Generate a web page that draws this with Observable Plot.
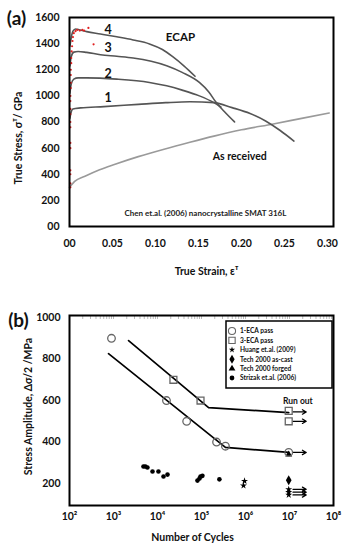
<!DOCTYPE html>
<html><head><meta charset="utf-8">
<script src="https://cdn.jsdelivr.net/npm/d3@7"></script>
<script src="https://cdn.jsdelivr.net/npm/@observablehq/plot@0.6"></script>
<style>
body{margin:0;background:#fff;}
#c{width:346px;}
#c svg{display:block;}
</style></head><body><div id="c"></div>
<script>
// ---------- Panel (a) data ----------
const strainTicks = [0, 0.05, 0.10, 0.15, 0.20, 0.25, 0.30];
const stressTicks = [0, 200, 400, 600, 800, 1000, 1200, 1400, 1600];
const ecap4 = [[0.0005,1380],[0.002,1445],[0.004,1495],[0.007,1512],[0.012,1505],[0.02,1492],[0.036,1474],[0.055,1452],[0.074,1428],[0.093,1398],[0.108,1355],[0.12,1300],[0.133,1230],[0.146,1150]];
const ecap3 = [[0.0005,1230],[0.002,1300],[0.005,1335],[0.01,1340],[0.02,1333],[0.036,1315],[0.055,1303],[0.074,1290],[0.095,1265],[0.113,1231],[0.131,1180],[0.151,1103],[0.162,1030],[0.17,955],[0.18,880],[0.192,800]];
const ecap2 = [[0.0005,1020],[0.002,1090],[0.005,1128],[0.01,1138],[0.02,1138],[0.055,1128],[0.093,1103],[0.113,1077],[0.131,1044],[0.151,1000],[0.168,948],[0.176,915]];
const ecap1 = [[0.0005,830],[0.0015,865],[0.004,900],[0.013,908],[0.04,918],[0.08,935],[0.112,948],[0.14,955],[0.168,948],[0.189,910],[0.21,865],[0.228,808],[0.245,735],[0.261,654]];
const asReceived = [[0,300],[0.001,308],[0.006,345],[0.018,385],[0.035,435],[0.053,477],[0.08,535],[0.11,592],[0.14,645],[0.168,692],[0.2,740],[0.237,785],[0.27,828],[0.302,869]];
const redPoints = [[0.001,300],[0.001,330],[0.001,400],[0.001,430],[0.001,600],[0.001,640],[0.001,760],[0.001,800],[0.001,860],[0.001,900],[0.001,960],[0.001,1000],[0.0015,1060],[0.0015,1100],[0.0015,1160],[0.0015,1200],[0.002,1250],[0.002,1290],[0.0025,1340],[0.003,1380],[0.0035,1420],[0.004,1450],[0.005,1480],[0.007,1495],[0.009,1505],[0.012,1500],[0.015,1505],[0.017,1500],[0.022,1520],[0.028,1395]];

// ---------- Panel (b) data ----------
const cycleTicks = [1e2, 1e3, 1e4, 1e5, 1e6, 1e7, 1e8];
const ampTicks = [200, 400, 600, 800, 1000];
const eca1Cycles = [900, 16000, 46000, 220000, 350000, 9.6e6];
const eca1Stress = [900, 600, 500, 400, 380, 350];
const eca3Cycles = [23000, 95000, 9.6e6, 9.6e6];
const eca3Stress = [700, 600, 550, 500];
const strizakCycles = [4800, 5300, 5900, 7700, 10500, 13700, 16900, 81000, 90000, 95000, 105000, 255000];
const strizakStress = [282, 282, 277, 258, 258, 234, 243, 214, 224, 234, 237, 220];
const huangCycles = [900000, 950000, 9.6e6, 9.6e6, 9.6e6];
const huangStress = [190, 212, 172, 158, 145];
const techCastCycles = [9.6e6];
const techCastStress = [216];
const techForgedCycles = [9.6e6];
const techForgedStress = [340];
const fit1 = [[770,826],[350000,374],[9.6e6,350]];
const fit3 = [[2200,889],[145000,566],[9.6e6,542]];
const runoutStress = [545, 500, 350, 172, 158, 145];
const runoutFrom = 1.2e7, runoutTo = 2.4e7;

const FONT = "Lato, 'Open Sans', 'DejaVu Sans', sans-serif";
const toRows = (pts, name) => pts.map(([x, y]) => ({x, y, name}));

// ---------- Panel (a) ----------
const curveRows = [
  ...toRows(ecap4, "4"), ...toRows(ecap3, "3"), ...toRows(ecap2, "2"), ...toRows(ecap1, "1")
];
const labelsA = [
  {t: "4", x: 0.045, y: 1508}, {t: "3", x: 0.045, y: 1370},
  {t: "2", x: 0.045, y: 1171}, {t: "1", x: 0.045, y: 980}
];

const plotA = Plot.plot({
  width: 346, height: 290,
  marginLeft: 69, marginRight: 13, marginTop: 17, marginBottom: 64,
  style: {fontFamily: FONT, fontWeight: "bold", fontSize: "10.5px", color: "#111", background: "white", overflow: "visible"},
  x: {domain: [0, 0.307]},
  y: {domain: [0, 1600]},
  marks: [
    Plot.axisY({ticks: stressTicks, tickSize: 0, tickPadding: 10, label: null, tickFormat: d => d === 0 ? "00" : String(d)}),
    Plot.axisX({ticks: strainTicks, tickSize: 0, tickPadding: 13, label: null, tickFormat: d => d === 0 ? "00" : d.toFixed(2)}),
    Plot.line(toRows(asReceived, "as"), {x: "x", y: "y", stroke: "#9a9a9a", strokeWidth: 1.6, curve: "monotone-x"}),
    Plot.line(curveRows, {x: "x", y: "y", z: "name", stroke: "#555", strokeWidth: 1.6, curve: "monotone-x"}),
    Plot.dot(redPoints, {x: d => d[0], y: d => d[1], r: 1.1, fill: "#e02020", stroke: null}),
    Plot.text(labelsA, {x: "x", y: "y", text: "t", fontSize: 12.5, fontWeight: "bold", fill: "#111"}),
    Plot.text(["ECAP"], {x: 0.129, y: 1447, fontSize: 11.5, fontWeight: "bold", fill: "#111"}),
    Plot.text(["As received"], {x: 0.198, y: 536, fontSize: 10.5, fontWeight: "bold", fill: "#111"}),
    Plot.text(["Chen et.al. (2006) nanocrystalline SMAT 316L"], {x: 0.158, y: 100, fontSize: 8, fontWeight: "bold", fill: "#222"}),
    Plot.frame({stroke: "#000", strokeWidth: 2}),
    Plot.text(["(a)"], {frameAnchor: "top-left", dx: -53, dy: 1, fontSize: 19, fontWeight: "bold", textAnchor: "middle", lineAnchor: "middle", fill: "#111"}),
    Plot.text(["True Stress, σᵀ/ GPa"], {frameAnchor: "left", dx: -51, dy: 16, rotate: -90, fontSize: 10.5, fontWeight: "bold", textAnchor: "middle", lineAnchor: "middle", fill: "#111"}),
    Plot.text(["True Strain, εᵀ"], {frameAnchor: "bottom", dx: 5, dy: 45, fontSize: 10.5, fontWeight: "bold", textAnchor: "middle", lineAnchor: "middle", fill: "#111"})
  ]
});

// ---------- Panel (b) ----------
const sup = {2: "²", 3: "³", 4: "⁴", 5: "⁵", 6: "⁶", 7: "⁷", 8: "⁸"};
const zip = (xs, ys) => xs.map((x, i) => ({x, y: ys[i]}));
const fitRows = [...toRows(fit1, "1"), ...toRows(fit3, "3")];
const arrows = runoutStress.map(y => ({y, x1: runoutFrom, x2: runoutTo}));

const plotB = Plot.plot({
  width: 346, height: 260,
  marginLeft: 69, marginRight: 13, marginTop: 25, marginBottom: 45,
  style: {fontFamily: FONT, fontWeight: "bold", fontSize: "10.5px", color: "#111", background: "white", overflow: "visible"},
  x: {type: "log", domain: [1e2, 1e8]},
  y: {domain: [94, 1010]},
  marks: [
    Plot.axisY({ticks: ampTicks, tickSize: 0, tickPadding: 9, label: null, tickFormat: d => String(d)}),
    Plot.axisX({ticks: cycleTicks, tickSize: 0, tickPadding: 7, label: null, tickFormat: d => "10" + sup[Math.round(Math.log10(d))]}),
    Plot.axisX({anchor: "top", ticks: 60, tickSize: -3, stroke: "#bbb", tickFormat: () => "", label: null}),
    Plot.line(fitRows, {x: "x", y: "y", z: "name", stroke: "#000", strokeWidth: 1.7}),
    Plot.arrow(arrows, {x1: "x1", x2: "x2", y1: "y", y2: "y", stroke: "#000", strokeWidth: 1.2, headLength: 6, headAngle: 60}),
    Plot.dot(zip(strizakCycles, strizakStress), {x: "x", y: "y", r: 2.3, fill: "#000", symbol: "circle"}),
    Plot.dot(zip(huangCycles, huangStress), {x: "x", y: "y", r: 2.2, fill: "#000", symbol: "star"}),
    Plot.dot(zip(techCastCycles, techCastStress), {x: "x", y: "y", r: 3, fill: "#000", symbol: "diamond"}),
    Plot.dot(zip(techForgedCycles, techForgedStress), {x: "x", y: "y", r: 2.6, fill: "#000", symbol: "triangle"}),
    Plot.dot(zip(eca1Cycles, eca1Stress), {x: "x", y: "y", r: 3.8, fill: "none", stroke: "#666", strokeWidth: 1.3, symbol: "circle"}),
    Plot.dot(zip(eca3Cycles, eca3Stress), {x: "x", y: "y", r: 3.9, fill: "none", stroke: "#666", strokeWidth: 1.3, symbol: "square"}),
    Plot.text(["Run out"], {x: 1.55e7, y: 598, fontSize: 8.5, fontWeight: "bold", fill: "#111"}),
    Plot.frame({stroke: "#000", strokeWidth: 2}),
    Plot.text(["(b)"], {frameAnchor: "top-left", dx: -51, dy: 5, fontSize: 19, fontWeight: "bold", textAnchor: "middle", lineAnchor: "middle", fill: "#111"}),
    Plot.text(["Stress Amplitude, Δσ/2 /MPa"], {frameAnchor: "left", dx: -41, dy: -4, rotate: -90, fontSize: 10.5, fontWeight: "bold", textAnchor: "middle", lineAnchor: "middle", fill: "#111"}),
    Plot.text(["Number of Cycles"], {frameAnchor: "bottom", dx: -9, dy: 32, fontSize: 10.5, fontWeight: "bold", textAnchor: "middle", lineAnchor: "middle", fill: "#111"})
  ]
});

// Legend for panel (b)
const legendItems = [
  {label: "1-ECA pass", sym: d3.symbolCircle, fill: "none", stroke: "#666", size: 40},
  {label: "3-ECA pass", sym: d3.symbolSquare, fill: "none", stroke: "#666", size: 40},
  {label: "Huang et.al. (2009)", sym: d3.symbolStar, fill: "#000", stroke: "none", size: 12},
  {label: "Tech 2000 as-cast", sym: d3.symbolDiamond, fill: "#000", stroke: "none", size: 24},
  {label: "Tech 2000 forged", sym: d3.symbolTriangle, fill: "#000", stroke: "none", size: 20},
  {label: "Strizak et.al. (2006)", sym: d3.symbolCircle, fill: "#000", stroke: "none", size: 18}
];
const svgB = d3.select(plotB);
const lg = svgB.append("g").attr("font-family", FONT).attr("font-weight", "bold").attr("font-size", "6.6px").attr("text-anchor", "start");
lg.append("rect").attr("x", 226).attr("y", 31).attr("width", 106).attr("height", 67)
  .attr("fill", "white").attr("stroke", "#000").attr("stroke-width", 1.5);
legendItems.forEach((it, i) => {
  const y = 41 + i * 9.4;
  lg.append("path").attr("d", d3.symbol(it.sym, it.size)()).attr("transform", `translate(232,${y})`)
    .attr("fill", it.fill).attr("stroke", it.stroke).attr("stroke-width", 1.1);
  lg.append("text").attr("x", 240).attr("y", y).attr("dy", "0.35em").attr("text-anchor", "start").attr("fill", "#111").text(it.label);
});

document.getElementById("c").append(plotA, plotB);
</script>
</body></html>
